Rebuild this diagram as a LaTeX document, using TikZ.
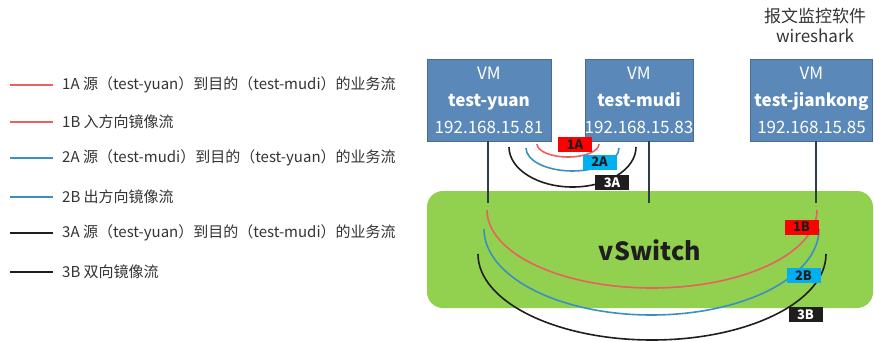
\documentclass[tikz,border=0pt]{standalone}
\usepackage{fontspec}
\setmainfont{Noto Sans CJK SC}
\definecolor{vmblue}{HTML}{5A88B8}
\definecolor{swgreen}{HTML}{92D050}
\definecolor{cred}{HTML}{E8615E}
\definecolor{cblue}{HTML}{3A90C0}
\definecolor{cblack}{HTML}{1E1E1E}
\definecolor{lred}{HTML}{FF0000}
\definecolor{lcyan}{HTML}{00B0F0}
\definecolor{wire}{HTML}{2E3B48}
\definecolor{txt}{HTML}{333333}
\begin{document}
\begin{tikzpicture}[x=1pt,y=-1pt,
  vmbox/.style={fill=vmblue, draw=vmblue!80!black, line width=0.4pt, minimum height=82pt, inner sep=0pt, text=white, align=center, font=\fontsize{17}{27}\selectfont},
  tag/.style={minimum width=34pt, minimum height=15pt, inner sep=0pt, font=\fontsize{13}{13}\selectfont\bfseries},
  flow/.style={line width=1.6pt},
  legline/.style={line width=2pt},
  legtext/.style={anchor=west, inner sep=0pt, text=txt, font=\fontsize{15}{15}\selectfont},
  wireline/.style={wire, line width=1.4pt}]
\useasboundingbox (0,0) rectangle (874,342);
% switch
\node[fill=swgreen, rounded corners=16pt, minimum width=446pt, minimum height=117pt, inner sep=0pt] (sw) at (650,249.5) {};
\node[text=cblack, font=\fontsize{25}{25}\selectfont\bfseries] (swlabel) at (650,250) {vSwitch};
% VM boxes
\node[vmbox, minimum width=124pt] (yuan) at (489,100) {VM\\\textbf{test-yuan}\\192.168.15.81};
\node[vmbox, minimum width=100pt] (mudi) at (639,100) {VM\\\textbf{test-mudi}\\192.168.15.83};
\node[vmbox, minimum width=122pt] (jk) at (811.5,100) {VM\\\textbf{test-jiankong}\\192.168.15.85};
\node[text=txt, font=\fontsize{17}{20}\selectfont, align=center] (ws) at (815,25) {报文监控软件\\wireshark};
% wires
\coordinate (yw) at (488,203);
\coordinate (mw) at (649,203);
\coordinate (jw) at (816,203);
\draw[wireline] (yuan.south -| yw) -- (yw);
\draw[wireline] (mudi.south -| mw) -- (mw);
\draw[wireline] (jk.south -| jw) -- (jw);
% big flows
\draw[flow, cred] (487,210) arc[start angle=180, end angle=360, x radius=165pt, y radius=78pt];
\draw[flow, cblue] (484,229) arc[start angle=180, end angle=360, x radius=167.5pt, y radius=86pt];
\draw[flow, cblack] (478,254) arc[start angle=180, end angle=360, x radius=174pt, y radius=86pt];
% small flows
\draw[flow, cred] (537,144) arc[start angle=180, end angle=360, x radius=31pt, y radius=13pt];
\draw[flow, cblue] (526,148) arc[start angle=180, end angle=360, x radius=46.5pt, y radius=23pt];
\draw[flow, cblack] (509,147) arc[start angle=180, end angle=360, x radius=63.5pt, y radius=40pt];
% tags
\node[tag, fill=lred, text=cblack] (t1a) at (575,144.5) {1A};
\node[tag, fill=lcyan, text=cblack] (t2a) at (599.5,162) {2A};
\node[tag, fill=cblack, text=white] (t3a) at (612,182.5) {3A};
\node[tag, fill=lred, text=cblack] (t1b) at (801.5,227) {1B};
\node[tag, fill=lcyan, text=cblack] (t2b) at (803.5,275.5) {2B};
\node[tag, fill=cblack, text=white] (t3b) at (805.5,314.5) {3B};
% legend
\foreach \y/\c/\t [count=\i] in {85/cred/{1A 源（test-yuan）到目的（test-mudi）的业务流},
                      122/cred/{1B 入方向镜像流},
                      158/cblue/{2A 源（test-mudi）到目的（test-yuan）的业务流},
                      197/cblue/{2B 出方向镜像流},
                      233/cblack/{3A 源（test-yuan）到目的（test-mudi）的业务流},
                      272/cblack/{3B 双向镜像流}} {
  \coordinate (la\i) at (10,\y);
  \coordinate (lb\i) at (53,\y);
  \draw[legline, \c] (la\i) -- (lb\i);
  \node[legtext] (lt\i) at (62,\y) {\t};
}
\end{tikzpicture}
\end{document}
